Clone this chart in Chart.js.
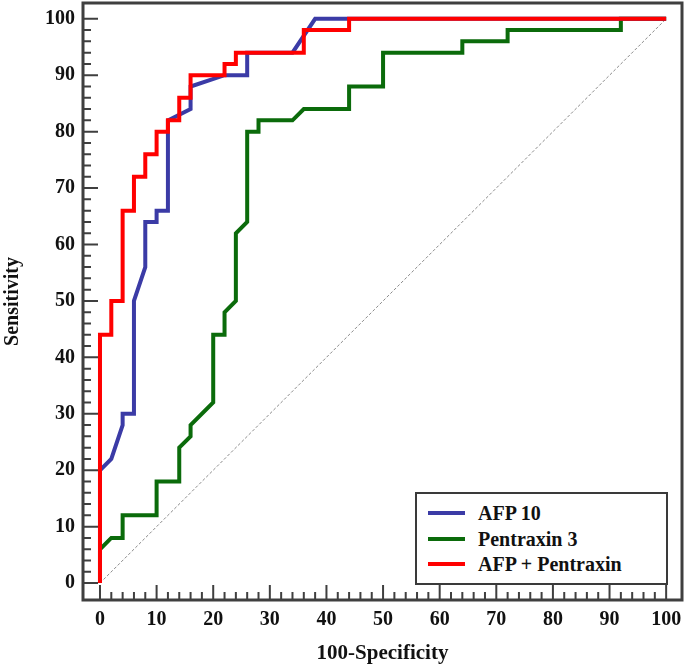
<!DOCTYPE html>
<html>
<head>
<meta charset="utf-8">
<script src="https://cdn.jsdelivr.net/npm/chart.js@4.4.1/dist/chart.umd.min.js"></script>
<style>
  html, body { margin: 0; padding: 0; background: #fff; }
  #wrap { position: relative; width: 685px; height: 666px; }
  #legend {
    position: absolute; left: 415px; top: 492px; width: 249px; height: 89px;
    border: 2px solid #3a3a3a; background: #fff;
    font: bold 20px "Liberation Serif", "DejaVu Serif", serif; color: #111;
  }
  .row { position: absolute; left: 0; height: 24px; line-height: 24px; width: 100%; }
  .swatch { position: absolute; left: 11px; top: 10px; width: 37px; height: 4px; }
  .lbl { position: absolute; left: 61px; top: 0; white-space: nowrap; }
</style>
</head>
<body>
<div id="wrap">
  <canvas id="roc" width="685" height="666"></canvas>
  <div id="legend"></div>
</div>
<script>
/* ======================= DATA ======================= */
const tickVals = [0, 10, 20, 30, 40, 50, 60, 70, 80, 90, 100];

const afpX = [0, 0, 2, 4, 4, 6, 6, 8, 8, 10, 10, 12, 12, 16, 16, 22, 26, 26, 34, 38, 100];
const afpY = [0, 20, 22, 28, 30, 30, 50, 56, 64, 64, 66, 66, 82, 84, 88, 90, 90, 94, 94, 100, 100];

const ptxX = [0, 0, 2, 4, 4, 10, 10, 14, 14, 16, 16, 20, 20, 22, 22, 24, 24, 26, 26, 28, 28, 34, 36, 44, 44, 50, 50, 64, 64, 72, 72, 92, 92, 100];
const ptxY = [0, 6, 8, 8, 12, 12, 18, 18, 24, 26, 28, 32, 44, 44, 48, 50, 62, 64, 80, 80, 82, 82, 84, 84, 88, 88, 94, 94, 96, 96, 98, 98, 100, 100];

const comboX = [0, 0, 2, 2, 4, 4, 6, 6, 8, 8, 10, 10, 12, 12, 14, 14, 16, 16, 22, 22, 24, 24, 36, 36, 44, 44, 100];
const comboY = [0, 44, 44, 50, 50, 66, 66, 72, 72, 76, 76, 80, 80, 82, 82, 86, 86, 90, 90, 92, 92, 94, 94, 98, 98, 100, 100];

const refX = [0, 100];
const refY = [0, 100];

const seriesNames = ['AFP 10', 'Pentraxin 3', 'AFP + Pentraxin'];
const seriesColours = ['#3b3ba6', '#0b6b0b', '#ff0000'];

/* ======================= HELPERS ======================= */
const FONT = '"Liberation Serif", "DejaVu Serif", serif';
const AXIS_COL = '#3f3f3f';
const pts = (xs, ys) => xs.map((x, i) => ({ x, y: ys[i] }));

/* draws the frame and the inward pointing tick marks */
const framePlugin = {
  id: 'frame',
  beforeDatasetsDraw(chart) {
    const { ctx, chartArea: a, scales: { x, y } } = chart;
    ctx.save();
    ctx.strokeStyle = AXIS_COL;
    ctx.lineWidth = 2;
    for (let v = 0; v <= 100; v += 2) {
      const len = v % 10 === 0 ? 15 : 8;
      const px = x.getPixelForValue(v);
      const py = y.getPixelForValue(v);
      ctx.beginPath();
      ctx.moveTo(px, a.bottom); ctx.lineTo(px, a.bottom - len);
      ctx.moveTo(a.left, py); ctx.lineTo(a.left + len, py);
      ctx.stroke();
    }
    ctx.restore();
  },
  afterDatasetsDraw(chart) {
    const { ctx, chartArea: a } = chart;
    ctx.save();
    ctx.strokeStyle = AXIS_COL;
    ctx.lineWidth = 3;
    ctx.strokeRect(a.left, a.top, a.right - a.left, a.bottom - a.top);
    ctx.restore();
  }
};

function lineSet(label, data, colour, order) {
  return {
    label, data, order,
    borderColor: colour,
    borderWidth: 4,
    pointRadius: 0,
    tension: 0,
    fill: false,
    borderJoinStyle: 'miter',
    borderCapStyle: 'butt'
  };
}

const tickFont = { family: FONT, size: 20, weight: 'bold' };
const titleFont = { family: FONT, size: 21, weight: 'bold' };

/* ======================= CHART ======================= */
new Chart(document.getElementById('roc'), {
  type: 'line',
  data: {
    datasets: [
      lineSet(seriesNames[2], pts(comboX, comboY), seriesColours[2], 0),
      lineSet(seriesNames[0], pts(afpX, afpY), seriesColours[0], 1),
      lineSet(seriesNames[1], pts(ptxX, ptxY), seriesColours[1], 2),
      {
        label: 'reference', data: pts(refX, refY), order: 3,
        borderColor: '#8a8a8a', borderWidth: 1, borderDash: [3, 2],
        pointRadius: 0, fill: false
      }
    ]
  },
  options: {
    responsive: false,
    animation: false,
    layout: { padding: { top: 3, right: 3, left: 0, bottom: 0 } },
    plugins: { legend: { display: false }, tooltip: { enabled: false } },
    scales: {
      x: {
        type: 'linear', min: -3, max: 102.8,
        afterBuildTicks: s => { s.ticks = tickVals.map(v => ({ value: v })); },
        afterFit: s => { s.height = 66; s.paddingLeft = 0; s.paddingRight = 0; },
        grid: { display: false, drawTicks: false },
        border: { display: false },
        ticks: { color: '#111', font: tickFont, padding: 8, maxRotation: 0, autoSkip: false },
        title: { display: true, text: '100-Specificity', color: '#111', font: titleFont, padding: { top: 0, bottom: 0 } }
      },
      y: {
        type: 'linear', min: -3, max: 102.8,
        afterBuildTicks: s => { s.ticks = tickVals.map(v => ({ value: v })); },
        afterFit: s => { s.width = 83; s.paddingTop = 0; s.paddingBottom = 0; },
        grid: { display: false, drawTicks: false },
        border: { display: false },
        ticks: { color: '#111', font: tickFont, padding: 8, autoSkip: false },
        title: { display: true, text: 'Sensitivity', color: '#111', font: tickFont, padding: { top: 1, bottom: 0 } }
      }
    }
  },
  plugins: [framePlugin]
});

/* ======================= LEGEND ======================= */
const legend = document.getElementById('legend');
const rowTops = [7, 33, 58];
seriesNames.forEach((name, i) => {
  const row = document.createElement('div');
  row.className = 'row';
  row.style.top = rowTops[i] + 'px';
  row.innerHTML = `<span class="swatch" style="background:${seriesColours[i]}"></span><span class="lbl">${name}</span>`;
  legend.appendChild(row);
});
</script>
</body>
</html>
